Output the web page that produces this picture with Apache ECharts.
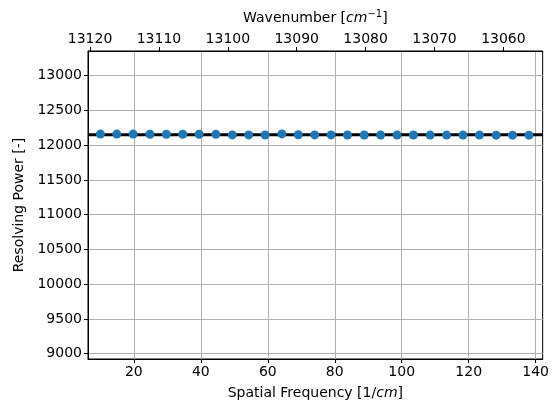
<!DOCTYPE html>
<html>
<head>
<meta charset="utf-8">
<script src="https://cdn.jsdelivr.net/npm/echarts@6/dist/echarts.min.js"></script>
<style>
  html, body { margin: 0; padding: 0; background: #fff; }
  #chart { width: 552px; height: 405px; }
</style>
</head>
<body>
<div id="chart"></div>
<script>
// spatial frequency samples [1/cm]
var spatialFreq = [10, 14.9, 19.8, 24.8, 29.7, 34.6, 39.5, 44.5, 49.4, 54.3, 59.2, 64.2, 69.1, 74,
    78.9, 83.8, 88.8, 93.7, 98.6, 103.5, 108.5, 113.4, 118.3, 123.2, 128.2, 133.1, 138];
// resolving power at each sample
var resolvingPower = [12160, 12160, 12160, 12158, 12158, 12157, 12157, 12156, 12148, 12148, 12147, 12162,
    12150, 12148, 12148, 12147, 12147, 12146, 12146, 12146, 12145, 12145, 12145, 12145, 12144, 12144, 12144];
var fitValue = 12150;          // thick black reference line
var xTicks = [20, 40, 60, 80, 100, 120, 140];
var topTicks = [13120, 13110, 13100, 13090, 13080, 13070, 13060];
var yTicks = [9000, 9500, 10000, 10500, 11000, 11500, 12000, 12500, 13000];

var xMin = 6.3, xMax = 142.1;
var wnLeft = 13120.3, wnRight = 13054.3;
var yMin = 8924, yMax = 13355;

var pts = [];
for (var i = 0; i < spatialFreq.length; i++) {
    pts.push([spatialFreq[i], resolvingPower[i]]);
}

var font = 'DejaVu Sans';
var fs = 14;
function plain(v) { return String(v); }
function labelStyle(ticks, margin) {
    return { customValues: ticks, margin: margin, formatter: plain,
        fontFamily: font, fontSize: fs, color: '#000' };
}

var myChart = echarts.init(document.getElementById('chart'));
var option = {
    animation: false,
    backgroundColor: '#fff',
    grid: {
        left: 88, right: 9, top: 51, bottom: 46,
        show: true, borderColor: '#000', borderWidth: 1, backgroundColor: 'transparent'
    },
    xAxis: [{
        type: 'value',
        position: 'bottom',
        min: xMin, max: xMax,
        name: 'Spatial Frequency [1/{i|cm}]',
        nameLocation: 'middle',
        nameGap: 27,
        nameTextStyle: {
            fontFamily: font, fontSize: fs, color: '#000',
            rich: { i: { fontFamily: font, fontSize: fs, fontStyle: 'italic', color: '#000' } }
        },
        axisLine: { onZero: false, lineStyle: { color: '#000', width: 1 } },
        axisTick: { customValues: xTicks, length: 4, lineStyle: { color: '#000' } },
        axisLabel: labelStyle(xTicks, 6),
        splitLine: { show: true, lineStyle: { color: '#b0b0b0', width: 1 } }
    }, {
        type: 'value',
        position: 'top',
        inverse: true,
        min: wnRight, max: wnLeft,
        name: 'Wavenumber [{i|cm}{s|−1}]',
        nameLocation: 'middle',
        nameGap: 24,
        nameTextStyle: {
            fontFamily: font, fontSize: fs, color: '#000',
            rich: {
                i: { fontFamily: font, fontSize: fs, fontStyle: 'italic', color: '#000' },
                s: { fontFamily: font, fontSize: 10, color: '#000', verticalAlign: 'bottom', padding: [0, 0, 8, 0] }
            }
        },
        axisLine: { onZero: false, lineStyle: { color: '#000', width: 1 } },
        axisTick: { customValues: topTicks, length: 4, lineStyle: { color: '#000' } },
        axisLabel: labelStyle(topTicks, 5),
        splitLine: { show: false }
    }],
    yAxis: {
        type: 'value',
        min: yMin, max: yMax,
        name: 'Resolving Power [-]',
        nameLocation: 'middle',
        nameGap: 61,
        nameTextStyle: { fontFamily: font, fontSize: fs, color: '#000' },
        axisLine: { onZero: false, lineStyle: { color: '#000', width: 1 } },
        axisTick: { customValues: yTicks, length: 4, lineStyle: { color: '#000' } },
        axisLabel: labelStyle(yTicks, 6),
        splitLine: { show: true, lineStyle: { color: '#b0b0b0', width: 1 } }
    },
    series: [{
        type: 'line',
        xAxisIndex: 0,
        data: [[xMin, fitValue], [xMax, fitValue]],
        showSymbol: false,
        lineStyle: { color: '#000', width: 3 },
        z: 2
    }, {
        type: 'scatter',
        xAxisIndex: 0,
        data: pts,
        symbolSize: 9,
        itemStyle: { color: '#1f77b4', opacity: 1 },
        z: 3
    }]
};
myChart.setOption(option, true);
</script>
</body>
</html>
